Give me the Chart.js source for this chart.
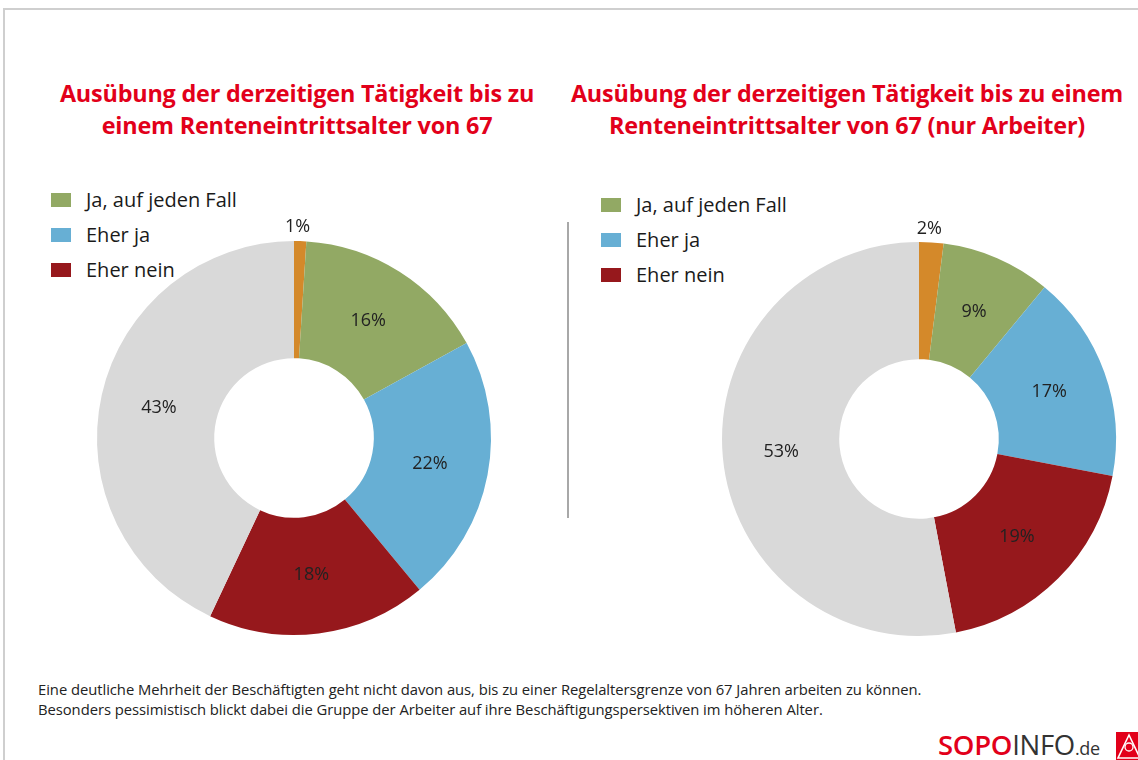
<!DOCTYPE html>
<html>
<head>
<meta charset="utf-8">
<script src="https://cdn.jsdelivr.net/npm/chart.js@4"></script>
<style>
  html, body { margin: 0; padding: 0; background: #fff; }
  body { width: 1138px; height: 760px; overflow: hidden; position: relative; font-family: "Open Sans", sans-serif; }
  .frame { position: absolute; left: 3px; top: 8px; right: -5px; bottom: -5px; border-top: 2px solid #cfcfcf; border-left: 2px solid #cfcfcf; }
  .title { position: absolute; color: #e2001a; font-weight: 700; font-size: 23.4px; line-height: 32px; text-align: center; white-space: nowrap; letter-spacing: -0.2px; }
  .legend { position: absolute; font-size: 20px; color: #1a1a1a; }
  .legend div { height: 35px; display: flex; align-items: center; }
  .legend span.box { display: inline-block; width: 20px; height: 14px; margin-right: 15px; }
  .divider { position: absolute; left: 567px; top: 222px; width: 2px; height: 296px; background: #a8a8a8; }
  canvas { position: absolute; }
  .note { position: absolute; left: 38px; top: 679px; font-size: 14.8px; line-height: 20px; color: #222; white-space: nowrap; letter-spacing: -0.05px; }
  .logo { position: absolute; left: 938px; top: 730px; font-size: 27.5px; line-height: 30px; white-space: nowrap; letter-spacing: -0.3px; }
  .logo b { color: #e2001a; font-weight: 600; }
  .logo i { font-style: normal; color: #333; font-weight: 400; }
  .logo small { font-size: 18px; color: #333; }
  .igm { position: absolute; left: 1116px; top: 732px; width: 26px; height: 30px; background: #e2001a; }
</style>
</head>
<body>
<div class="frame"></div>

<div class="title" id="t1" style="left:20px; width:554px; top:77px;"></div>
<div class="title" id="t2" style="left:560px; width:574px; top:77px;"></div>

<div class="legend" id="lg1" style="left:51px; top:182px;"></div>
<div class="legend" id="lg2" style="left:601px; top:187px;"></div>

<div class="divider"></div>

<canvas id="c1" width="460" height="460" style="left:64px; top:208px; width:460px; height:460px;"></canvas>
<canvas id="c2" width="460" height="460" style="left:689px; top:209px; width:460px; height:460px;"></canvas>

<div class="note">Eine deutliche Mehrheit der Beschäftigten geht nicht davon aus, bis zu einer Regelaltersgrenze von 67 Jahren arbeiten zu können.<br>Besonders pessimistisch blickt dabei die Gruppe der Arbeiter auf ihre Beschäftigungspersektiven im höheren Alter.</div>

<div class="logo"><b>SOPO</b><i>INFO</i><small>.de</small></div>
<div class="igm"><svg width="26" height="30" viewBox="0 0 26 30"><path d="M13 3 L24 26 L2 26 Z" fill="none" stroke="#fff" stroke-width="1.6"/><circle cx="13" cy="15" r="4" fill="none" stroke="#fff" stroke-width="1.3"/></svg></div>

<script>
// categories (order as drawn clockwise from top)
const categories = ['Weiß nicht', 'Ja, auf jeden Fall', 'Eher ja', 'Eher nein', 'Nein, auf keinen Fall'];
const colors = ['#d4892a', '#92a964', '#67afd4', '#96181c', '#d9d9d9'];
const legendItems = [1, 2, 3];

const allValues = [1, 16, 22, 18, 43];
const workerValues = [2, 9, 17, 19, 53];

const title1 = ['Ausübung der derzeitigen Tätigkeit bis zu', 'einem Renteneintrittsalter von 67'];
const title2 = ['Ausübung der derzeitigen Tätigkeit bis zu einem', 'Renteneintrittsalter von 67 (nur Arbeiter)'];

document.getElementById('t1').innerHTML = title1.join('<br>');
document.getElementById('t2').innerHTML = title2.join('<br>');

function buildLegend(id) {
  const el = document.getElementById(id);
  legendItems.forEach(i => {
    const row = document.createElement('div');
    row.innerHTML = '<span class="box" style="background:' + colors[i] + '"></span>' + categories[i];
    el.appendChild(row);
  });
}
buildLegend('lg1');
buildLegend('lg2');

// percent labels: inside the ring, small slices just outside
const sliceLabels = {
  id: 'sliceLabels',
  afterDatasetsDraw(chart) {
    const ctx = chart.ctx;
    const meta = chart.getDatasetMeta(0);
    const data = chart.data.datasets[0].data;
    ctx.save();
    ctx.font = '18px "Open Sans", sans-serif';
    ctx.fillStyle = '#222';
    ctx.textAlign = 'center';
    ctx.textBaseline = 'middle';
    meta.data.forEach((arc, i) => {
      const p = arc.getProps(['x', 'y', 'startAngle', 'endAngle', 'innerRadius', 'outerRadius'], true);
      const mid = (p.startAngle + p.endAngle) / 2;
      const r = data[i] < 5 ? p.outerRadius + 14 : (p.innerRadius + p.outerRadius) / 2;
      ctx.fillText(data[i] + '%', p.x + Math.cos(mid) * r - (data[i] < 5 ? 3 : 0), p.y + Math.sin(mid) * r);
    });
    ctx.restore();
  }
};

function makeChart(id, values) {
  return new Chart(document.getElementById(id), {
    type: 'doughnut',
    data: {
      labels: categories,
      datasets: [{
        data: values,
        backgroundColor: colors,
        borderWidth: 0,
        hoverOffset: 0
      }]
    },
    options: {
      responsive: false,
      animation: false,
      cutout: '40.5%',
      layout: { padding: 33 },
      plugins: {
        legend: { display: false },
        tooltip: { enabled: false }
      }
    },
    plugins: [sliceLabels]
  });
}

makeChart('c1', allValues);
makeChart('c2', workerValues);
</script>
</body>
</html>
